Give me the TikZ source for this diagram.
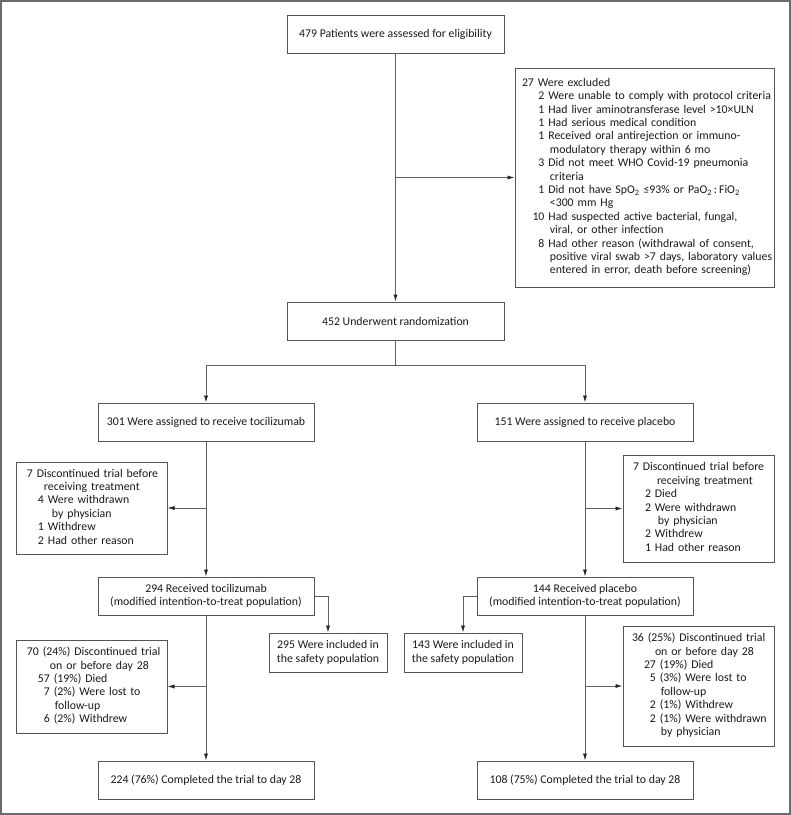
\documentclass[tikz,border=0pt]{standalone}
\usepackage{fontspec}
\setmainfont{Carlito}
\usetikzlibrary{arrows.meta}
\newcommand{\bodyfont}{\fontsize{11.8}{13.4}\selectfont}
\newcommand{\hd}[2]{\multicolumn{2}{@{\hspace{#1}}l@{}}{#2}}
\definecolor{boxc}{gray}{0.33}
\definecolor{linec}{gray}{0.38}
\begin{document}
\begin{tikzpicture}[x=1pt,y=-1pt,
  box/.style={draw=boxc, line width=1pt, inner sep=0pt, font=\bodyfont, align=center, text=black!90},
  lbox/.style={box, align=left},
  arr/.style={draw=linec, line width=0.9pt, -{Latex[length=7pt,width=4.2pt,color=black!85]}},
  ln/.style={draw=linec, line width=0.9pt}]
\useasboundingbox (0,0) rectangle (791,815);
\draw[line width=2pt, black!58] (1,1) rectangle (789.5,813.5);

\node[box, minimum width=217pt, minimum height=38pt] (top) at (395.5,34) {479 Patients were assessed for eligibility};

\node[lbox, text width=259pt, minimum height=219pt] (excl) at (644.5,177.5) {%
\begin{tabular}{@{\hspace{17.5pt}}r@{\ }l@{}}
\hd{7pt}{27 Were excluded}\\
2 & Were unable to comply with protocol criteria\\
1 & Had liver aminotransferase level >10×ULN\\
1 & Had serious medical condition\\
1 & Received oral antirejection or immuno-\\
  & \hspace{1.5pt}modulatory therapy within 6 mo\\
3 & Did not meet WHO Covid-19 pneumonia\\
  & \hspace{1.5pt}criteria\\
1 & Did not have SpO\textsubscript{2} ≤93\% or PaO\textsubscript{2}\,:\,FiO\textsubscript{2}\\
  & \hspace{1.5pt}<300 mm Hg\\
10 & Had suspected active bacterial, fungal,\\
  & \hspace{1.5pt}viral, or other infection\\
8 & Had other reason (withdrawal of consent,\\
  & \hspace{1.5pt}positive viral swab >7 days, laboratory values\\
  & \hspace{1.5pt}entered in error, death before screening)
\end{tabular}};

\node[box, minimum width=217pt, minimum height=38pt] (rand) at (395.5,321) {452 Underwent randomization};

\node[box, minimum width=216pt, minimum height=38pt] (toc) at (206,422) {301 Were assigned to receive tocilizumab};
\node[box, minimum width=216pt, minimum height=38pt] (plc) at (585,422) {151 Were assigned to receive placebo};

\node[lbox, text width=151pt, minimum height=92pt] (discL) at (91.5,508) {%
\begin{tabular}{@{\hspace{22pt}}r@{\ }l@{}}
\hd{11pt}{7 Discontinued trial before}\\
\hd{28pt}{receiving treatment}\\
4 & Were withdrawn\\
  & \hspace{4pt}by physician\\
1 & Withdrew\\
2 & Had other reason
\end{tabular}};

\node[lbox, text width=151pt, minimum height=107pt] (discR) at (698.5,508.5) {%
\begin{tabular}{@{\hspace{22pt}}r@{\ }l@{}}
\hd{10pt}{7 Discontinued trial before}\\
\hd{34pt}{receiving treatment}\\
2 & Died\\
2 & Were withdrawn\\
  & \hspace{3pt}by physician\\
2 & Withdrew\\
1 & Had other reason
\end{tabular}};

\node[box, minimum width=216pt, minimum height=38pt] (recT) at (206,596) {294 Received tocilizumab\\(modified intention-to-treat population)};
\node[box, minimum width=216pt, minimum height=38pt] (recP) at (585,596) {144 Received placebo\\(modified intention-to-treat population)};

\node[box, minimum width=118pt, minimum height=39pt] (safT) at (328,652.5) {295 Were included in\\the safety population};
\node[box, minimum width=118pt, minimum height=39pt] (safP) at (463,652.5) {143 Were included in\\the safety population};

\node[lbox, text width=151pt, minimum height=93pt] (d28L) at (91.5,686.5) {%
\begin{tabular}{@{\hspace{22pt}}r@{\ }l@{}}
\hd{11pt}{70 (24\%) Discontinued trial}\\
\hd{34pt}{on or before day 28}\\
57 & (19\%) Died\\
7 & (2\%) Were lost to\\
  & \hspace{1pt}follow-up\\
6 & (2\%) Withdrew
\end{tabular}};

\node[lbox, text width=151pt, minimum height=120pt] (d28R) at (698.5,686) {%
\begin{tabular}{@{\hspace{21pt}}r@{\ }l@{}}
\hd{9pt}{36 (25\%) Discontinued trial}\\
\hd{32pt}{on or before day 28}\\
27 & (19\%) Died\\
5 & (3\%) Were lost to\\
  & \hspace{1pt}follow-up\\
2 & (1\%) Withdrew\\
2 & (1\%) Were withdrawn\\
  & \hspace{1pt}by physician
\end{tabular}};

\node[box, minimum width=216pt, minimum height=38pt] (compT) at (206,780) {224 (76\%) Completed the trial to day 28};
\node[box, minimum width=216pt, minimum height=38pt] (compP) at (585,780) {108 (75\%) Completed the trial to day 28};

% connectors
\coordinate (split) at (395.5,365);
\draw[arr] (top.south) -- (rand.north);
\draw[arr] (top.south |- excl.west) -- (excl.west);
\draw[ln] (rand.south) -- (split);
\draw[ln] (toc.north |- split) -- (plc.north |- split);
\draw[arr] (toc.north |- split) -- (toc.north);
\draw[arr] (plc.north |- split) -- (plc.north);

\draw[arr] (toc.south) -- (recT.north);
\draw[arr] (toc.south |- discL.east) -- (discL.east);
\draw[arr] (plc.south) -- (recP.north);
\draw[arr] (plc.south |- discR.west) -- (discR.west);

\draw[arr] (recT.east) -| (safT.north);
\draw[arr] (recP.west) -| (safP.north);

\draw[arr] (recT.south) -- (compT.north);
\draw[arr] (recT.south |- d28L.east) -- (d28L.east);
\draw[arr] (recP.south) -- (compP.north);
\draw[arr] (recP.south |- d28R.west) -- (d28R.west);
\end{tikzpicture}
\end{document}
